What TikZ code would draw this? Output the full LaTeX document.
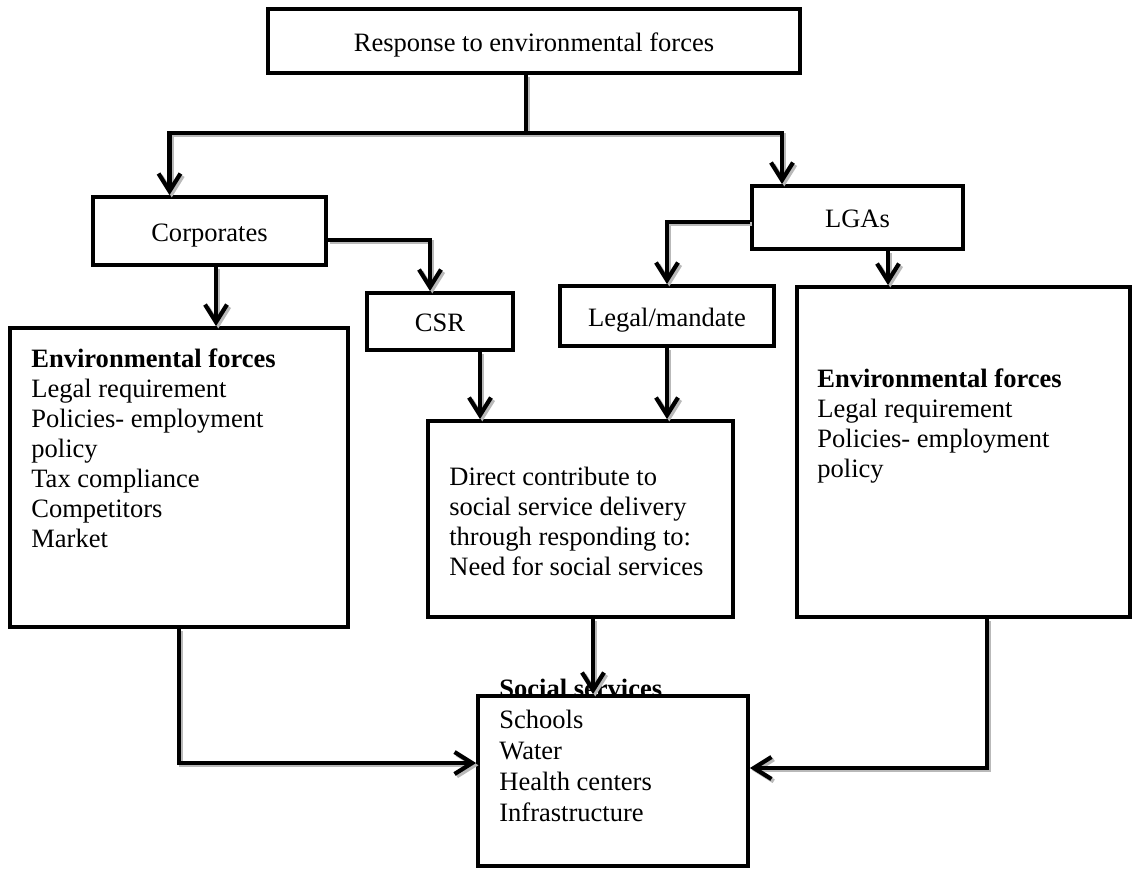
\documentclass[tikz,border=0pt]{standalone}
\usepackage{fontspec}
\setmainfont{Liberation Serif}
\usepackage{tikz}
\usetikzlibrary{positioning,arrows.meta}

\tikzset{
  box/.style={draw,line width=2.2pt,inner sep=0pt,text height=11.5pt,text depth=0pt},
  txt/.style={align=left,anchor=north west,inner sep=0pt},
  conn/.style={line width=2.4pt,preaction={draw=gray!55,line width=2.4pt,transform canvas={xshift=1.3pt,yshift=-1.3pt}}},
  arr/.style={conn,-{Straight Barb[length=10pt,width=12.5pt,line join=miter]}}
}

\begin{document}
\begin{tikzpicture}[x=0.02cm,y=-0.02cm,every node/.style={font=\fontsize{15.1}{17.1}\selectfont}]
    \useasboundingbox (0,0) rectangle (1133,869);
    \node[box,minimum width=10.64cm,minimum height=1.28cm] (resp) at (534,41) {Response to environmental forces};
    \node[box,minimum width=4.66cm,minimum height=1.36cm] (corp) at (209.5,231) {Corporates};
    \node[box,minimum width=4.22cm,minimum height=1.26cm] (lgas) at (857.5,217.5) {LGAs};
    \node[box,minimum width=2.92cm,minimum height=1.14cm] (csr) at (440,321.5) {CSR};
    \node[box,minimum width=4.28cm,minimum height=1.2cm] (legal) at (667,316) {Legal/mandate};
    \node[box,minimum width=6.76cm,minimum height=5.98cm] (corpforces) at (179,477.5) {};
    \node[box,minimum width=6.66cm,minimum height=6.6cm] (lgaforces) at (963.5,452) {};
    \node[box,minimum width=6.1cm,minimum height=3.92cm] (direct) at (580.5,519) {};
    \node[box,minimum width=5.4cm,minimum height=3.4cm] (services) at (613,781) {};

    \node[txt] (corpforcestext) at (31,348) {\textbf{Environmental forces}\\Legal requirement\\Policies- employment\\policy\\Tax compliance\\Competitors\\Market};
    \node[txt] (lgaforcestext) at (817,368) {\textbf{Environmental forces}\\Legal requirement\\Policies- employment\\policy};
    \node[txt] (directtext) at (449,467) {Direct contribute to\\social service delivery\\through responding to:\\Need for social services};
    \node[txt,font=\fontsize{15.1}{17.6}\selectfont] (servicestext) at (499,679) {\textbf{Social services}\\Schools\\Water\\Health centers\\Infrastructure};

    \coordinate (fork) at (526,133);
    \coordinate (kcorp) at (169.5,133);
    \coordinate (klgas) at (782,133);
    \coordinate (kcsr) at (430,240);
    \coordinate (klegal) at (667,222);
    \coordinate (kforces) at (216,0);
    \coordinate (klgadown) at (888,0);
    \coordinate (kcsrdown) at (480,0);
    \coordinate (kdirect) at (593,0);
    \coordinate (kleft) at (179,763);
    \coordinate (kright) at (987,768);

    \draw[conn] (resp.south -| fork) -- (fork);
    \draw[arr] (fork) -| (corp.north -| kcorp);
    \draw[arr] (fork) -| (lgas.north -| klgas);
    \draw[arr] (corp.east |- kcsr) -| (csr.north -| kcsr);
    \draw[arr] (lgas.west |- klegal) -| (legal.north -| klegal);
    \draw[arr] (corp.south -| kforces) -- (corpforces.north -| kforces);
    \draw[arr] (lgas.south -| klgadown) -- (lgaforces.north -| klgadown);
    \draw[arr] (csr.south -| kcsrdown) -- (direct.north -| kcsrdown);
    \draw[arr] (legal.south -| klegal) -- (direct.north -| klegal);
    \draw[arr] (direct.south -| kdirect) -- (services.north -| kdirect);
    \draw[arr] (corpforces.south -| kleft) |- (services.west |- kleft);
    \draw[arr] (lgaforces.south -| kright) |- (services.east |- kright);
\end{tikzpicture}
\end{document}
